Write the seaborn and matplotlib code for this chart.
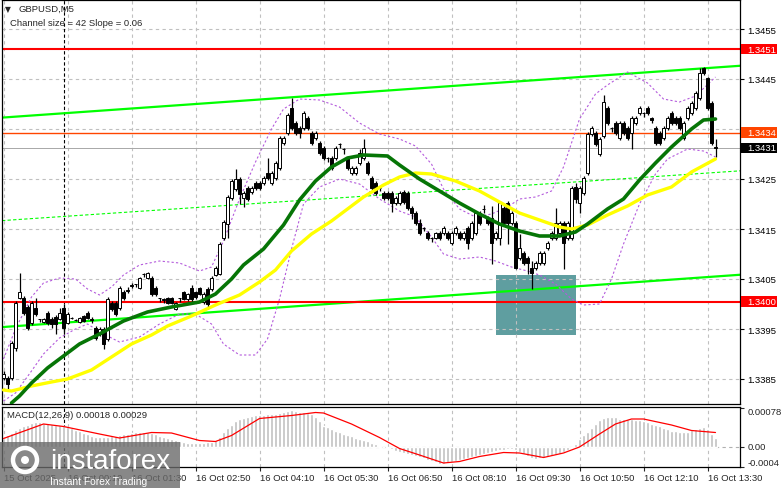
import numpy as np
import pandas as pd
import matplotlib
matplotlib.use("Agg")
import matplotlib.pyplot as plt
import matplotlib.transforms as mtransforms
from matplotlib.patches import Rectangle, Circle
import seaborn as sns

# GBPUSD M5, one entry per bar from 15 Oct 22:50 to 16 Oct 13:40
# prices in points (0.00001) above 1.3400
opens = [-148, -148, -148, -88, 12, 12, -6, -38, -8, -30,
         -36, -18, -30, -26, -30, -8, -38, -28, -32, -36,
         -24, -18, -30, -48, -60, -50, -70, 2, 2, -8,
         24, 28, 38, 40, 32, 60, 52, 52, 32, 12,
         10, 12, 12, -10, 12, 24, 10, 32, 24, 32,
         4, 30, 30, 58, 60, 132, 160, 212, 230, 250,
         212, 232, 224, 242, 242, 242, 262, 242, 252, 272,
         322, 342, 392, 362, 352, 352, 372, 342, 332, 322,
         312, 292, 292, 292, 320, 310, 292, 262, 262, 282,
         292, 282, 252, 242, 232, 222, 222, 222, 202, 202,
         224, 222, 192, 182, 162, 152, 142, 132, 132, 142,
         142, 142, 122, 142, 142, 132, 152, 132, 142, 182,
         190, 172, 172, 132, 132, 192, 202, 162, 162, 92,
         102, 92, 72, 72, 82, 82, 112, 132, 132, 142,
         162, 132, 132, 234, 202, 222, 262, 340, 342, 300,
         336, 392, 352, 362, 332, 362, 352, 342, 362, 382,
         382, 392, 372, 352, 342, 332, 352, 382, 372, 372,
         332, 372, 382, 392, 412, 472, 452, 402, 314]
closes = [-140, -160, -78, 2, 24, -18, -48, 2, -20, -30,
          -30, -38, -40, -40, -18, -48, -20, -28, -32, -28,
          -34, -28, -32, -68, -50, -80, 10, -10, -20, 32,
          12, 26, 36, 40, 52, 60, 62, 20, 20, 12,
          8, 2, 2, 2, 12, 10, 20, 10, 14, 20,
          20, 0, 52, 72, 120, 164, 214, 246, 250, 220,
          222, 210, 232, 232, 232, 252, 252, 262, 282, 332,
          332, 378, 352, 342, 342, 382, 352, 322, 342, 302,
          292, 292, 272, 312, 320, 310, 272, 272, 272, 302,
          312, 262, 232, 222, 232, 212, 212, 202, 212, 222,
          204, 192, 182, 162, 142, 152, 132, 132, 142, 132,
          152, 132, 142, 152, 132, 142, 122, 162, 182, 162,
          190, 162, 122, 142, 202, 162, 162, 182, 72, 112,
          82, 82, 62, 82, 102, 102, 122, 142, 162, 162,
          122, 162, 232, 210, 232, 252, 340, 352, 320, 330,
          404, 362, 352, 342, 362, 342, 332, 372, 372, 392,
          382, 382, 368, 322, 322, 352, 372, 362, 362, 352,
          362, 392, 402, 422, 462, 462, 392, 322, 312]
highs = [-134, -144, -74, 6, 62, 16, -2, 6, 12, -30,
         -28, -14, -26, -22, -8, 0, -16, -26, -30, -26,
         -22, -14, -26, -44, -46, -46, 14, 6, 6, 36,
         28, 34, 42, 40, 54, 62, 64, 56, 36, 12,
         12, 14, 14, 4, 12, 26, 22, 38, 26, 34,
         24, 34, 56, 76, 124, 168, 218, 250, 270, 254,
         226, 236, 236, 246, 246, 256, 292, 266, 286, 336,
         336, 382, 412, 366, 356, 386, 376, 346, 346, 326,
         316, 294, 296, 316, 322, 312, 296, 276, 276, 310,
         330, 286, 256, 246, 234, 226, 226, 226, 216, 226,
         228, 226, 196, 186, 170, 154, 146, 134, 144, 146,
         156, 146, 146, 156, 146, 146, 156, 166, 186, 186,
         198, 176, 196, 146, 206, 196, 206, 186, 166, 140,
         106, 96, 86, 86, 106, 106, 126, 146, 192, 166,
         166, 166, 236, 242, 236, 256, 344, 356, 346, 334,
         418, 396, 354, 366, 366, 366, 356, 376, 376, 396,
         384, 396, 374, 356, 346, 356, 376, 386, 376, 376,
         366, 396, 406, 426, 472, 474, 454, 406, 330]
lows = [-152, -170, -152, -94, 10, -22, -52, -42, -24, -36,
        -38, -42, -48, -60, -32, -60, -40, -30, -34, -38,
        -36, -30, -38, -72, -64, -90, -74, -14, -24, -12,
        8, 22, 32, 34, 30, 54, 50, 16, 16, 4,
        2, 0, 0, -12, 4, 8, 6, 0, 10, 18,
        0, -10, 26, 56, 58, 128, 132, 208, 226, 200,
        194, 206, 220, 228, 228, 238, 248, 238, 248, 268,
        318, 338, 348, 338, 332, 348, 348, 318, 328, 298,
        288, 284, 268, 288, 312, 300, 268, 258, 258, 278,
        288, 258, 228, 218, 226, 208, 208, 184, 198, 198,
        200, 188, 170, 158, 138, 146, 128, 124, 130, 128,
        138, 128, 118, 138, 128, 128, 110, 128, 138, 158,
        182, 158, 80, 128, 118, 158, 120, 158, 70, 88,
        78, 60, 30, 68, 78, 78, 108, 128, 128, 138,
        70, 128, 128, 202, 182, 218, 258, 336, 316, 296,
        332, 358, 344, 338, 328, 338, 328, 310, 358, 378,
        374, 378, 362, 318, 318, 328, 348, 358, 358, 348,
        328, 368, 378, 388, 408, 458, 388, 318, 294]

# moving averages (bar index, points)
ma_fast_bars = [2, 4, 7, 11, 15, 19, 24, 30, 36, 42, 49, 53, 57, 60, 65, 70, 74, 78, 82, 86,
                90, 96, 99, 104, 109, 114, 119, 124, 129, 134, 139, 143, 146, 151, 155, 159,
                163, 167, 172, 175, 178]
ma_fast = [-198, -184, -158, -128, -104, -80, -60, -34, -16, -6, 4, 20, 50, 78, 110, 158, 208,
           246, 274, 292, 298, 296, 278, 250, 226, 202, 180, 160, 146, 136, 136, 144, 160,
           190, 210, 248, 282, 314, 350, 368, 370]
ma_slow_bars = [0, 2, 7, 12, 16, 22, 27, 32, 37, 41, 47, 53, 59, 64, 68, 72, 77, 82, 86, 90,
                95, 99, 103, 107, 113, 119, 124, 129, 134, 139, 142, 146, 151, 156, 161, 167,
                172, 178]
ma_slow = [-172, -174, -164, -156, -150, -132, -106, -80, -62, -44, -24, -2, 18, 44, 68, 106,
           140, 166, 190, 214, 238, 254, 262, 260, 246, 226, 204, 182, 168, 154, 150, 158,
           178, 196, 218, 234, 264, 290]

# bollinger bands
bb_up_bars = [0, 3, 7, 10, 14, 18, 21, 24, 27, 30, 34, 39, 44, 49, 52, 55, 59, 63, 67, 70,
              74, 79, 84, 89, 94, 99, 103, 107, 110, 114, 118, 122, 126, 129, 133, 137, 140,
              144, 148, 151, 156, 161, 165, 169, 173, 178]
bb_up = [-110, -50, 14, 42, 52, 50, 30, 18, 34, 58, 78, 86, 82, 66, 74, 126, 210, 284, 350,
         390, 410, 408, 394, 362, 340, 330, 316, 280, 230, 190, 174, 180, 194, 210, 214, 226,
         274, 370, 420, 438, 464, 442, 410, 404, 416, 454]
bb_low_bars = [0, 3, 7, 10, 14, 18, 21, 25, 29, 34, 39, 44, 48, 52, 55, 59, 63, 66, 69, 72,
               75, 79, 84, 89, 94, 99, 103, 107, 110, 114, 119, 123, 127, 131, 134, 138, 142,
               145, 149, 152, 155, 159, 163, 166, 171, 175, 178]
bb_low = [-194, -178, -134, -100, -68, -50, -40, -60, -76, -66, -40, -20, -20, -40, -80, -102,
          -102, -70, 10, 110, 200, 234, 250, 240, 210, 186, 174, 134, 100, 90, 94, 86, 74, 66,
          58, 40, 10, -2, 0, 50, 120, 200, 260, 290, 310, 306, 294]

# channel (two anchor bars) and levels
chan_bars = [0, 178]
chan_upper = [373, 473]
chan_mid = [167, 263]
chan_lower = [-46, 55]
levels = {"1.3451": 1.3451, "1.3434": 1.34343, "1.3431": 1.34312, "1.3400": 1.34005}
zone_bars = [123, 143]
zone_pts = [-62, 58]
day_sep_bar = 15

# MACD histogram and signal, in 0.00001
macd_hist = [19, 24, 29, 34, 38, 42, 45, 48, 50, 50,
             49, 48, 46, 45, 44, 42, 40, 38, 35, 32,
             29, 26, 23, 21, 20, 20, 21, 22, 23, 25,
             26, 27, 28, 30, 31, 31, 30, 28, 26, 23,
             21, 19, 17, 15, 12, 10, 9, 8, 8, 9,
             9, 10, 10, 14, 20, 30, 38, 45, 52, 56,
             59, 61, 63, 64, 65, 65, 66, 66, 67, 69,
             71, 73, 74, 73, 71, 70, 68, 67, 60, 52,
             43, 40, 37, 33, 30, 27, 24, 22, 19, 17,
             15, 13, 9, 6, 3, 1, -1, -4, -7, -10,
             -11, -13, -15, -17, -20, -22, -25, -27, -30, -33,
             -33, -32, -30, -28, -26, -23, -21, -19, -17, -16,
             -14, -12, -10, -7, -6, -5, -4, -3, -6, -10,
             -14, -18, -22, -23, -22, -22, -20, -18, -16, -13,
             -10, -6, -2, 7, 17, 24, 31, 38, 47, 55,
             58, 60, 61, 60, 57, 57, 57, 57, 55, 54,
             53, 50, 47, 44, 42, 39, 36, 33, 32, 31,
             30, 31, 34, 37, 39, 40, 36, 26, 18]
sig_bars = [0, 10, 15, 24, 29, 37, 42, 49, 53, 57, 64, 72, 78, 80, 87, 94, 99, 104, 110, 114,
            119, 125, 129, 135, 140, 144, 149, 153, 157, 160, 167, 172, 178]
sig_vals = [17, 46, 41, 26, 18, 29, 28, 13, 11, 23, 57, 63, 69, 68, 46, 19, -3, -16, -32, -29,
            -19, -11, -12, -21, -12, 0, 26, 46, 56, 56, 44, 33, 29]

tick_bars = list(range(0, 177, 16))
tick_labels = ["15 Oct 2025", "16 Oct 00:10", "16 Oct 01:30", "16 Oct 02:50", "16 Oct 04:10",
               "16 Oct 05:30", "16 Oct 06:50", "16 Oct 08:10", "16 Oct 09:30", "16 Oct 10:50",
               "16 Oct 12:10", "16 Oct 13:30"]
price_ticks = [1.3385, 1.3395, 1.3405, 1.3415, 1.3425, 1.3435, 1.3445, 1.3455]

base, pt = 1.34, 1e-5
df = pd.DataFrame({"o": opens, "h": highs, "l": lows, "c": closes}) * pt + base
df["bar"] = np.arange(len(df))

sns.set_style("white")
plt.rcParams["font.family"] = ["Liberation Sans", "DejaVu Sans"]
FS = 6.8

W, H = 781, 489
fig = plt.figure(figsize=(W / 100, H / 100), dpi=100)
ax = fig.add_axes([2 / W, 1 - 405 / H, 738 / W, 404 / H])
ax2 = fig.add_axes([2 / W, 1 - 468 / H, 738 / W, 60 / H])

xlim = (-0.375, 184.125)
for a in (ax, ax2):
    a.set_xlim(*xlim)
    for s in a.spines.values():
        s.set_color("black")
        s.set_linewidth(0.9)
    for b in tick_bars:
        a.axvline(b, color="#c0c0c0", lw=0.8, ls=(0, (3, 3)), zorder=1)
    a.axvline(day_sep_bar, color="black", lw=0.8, ls=(0, (3, 2)), zorder=2)

ax.set_ylim(base - 200 * pt, base + 608 * pt)
for p in price_ticks:
    ax.axhline(p, color="#c0c0c0", lw=0.8, ls=(0, (3, 3)), zorder=1)

# sell/buy zone
ax.add_patch(Rectangle((zone_bars[0], base + zone_pts[0] * pt), zone_bars[1] - zone_bars[0],
                       (zone_pts[1] - zone_pts[0]) * pt, fc="#5f9ea0", ec="none", zorder=0.5))

# channel
cb = np.array(chan_bars)
ax.axline((cb[0], base + chan_upper[0] * pt), (cb[1], base + chan_upper[1] * pt),
          color="#00ff00", lw=1.6, zorder=2)
ax.axline((cb[0], base + chan_lower[0] * pt), (cb[1], base + chan_lower[1] * pt),
          color="#00ff00", lw=1.6, zorder=2)
ax.axline((cb[0], base + chan_mid[0] * pt), (cb[1], base + chan_mid[1] * pt),
          color="#00ff00", lw=0.8, ls=(0, (3, 2)), zorder=2)

# levels
ax.axhline(levels["1.3451"], color="#ff0000", lw=1.5, zorder=2)
ax.axhline(levels["1.3400"], color="#ff0000", lw=1.5, zorder=2)
ax.axhline(levels["1.3434"], color="#ff4500", lw=1.0, zorder=2)
ax.axhline(levels["1.3431"], color="#a8a8a8", lw=0.7, zorder=2)

# bollinger bands
sns.lineplot(x=bb_up_bars, y=np.array(bb_up) * pt + base, ax=ax, color="#b45bdc", lw=0.8,
             ls=(0, (2, 2)), sort=False, estimator=None, zorder=2.5)
sns.lineplot(x=bb_low_bars, y=np.array(bb_low) * pt + base, ax=ax, color="#b45bdc", lw=0.8,
             ls=(0, (2, 2)), sort=False, estimator=None, zorder=2.5)

# candles
up = df["c"] >= df["o"]
body_lo = np.minimum(df["o"], df["c"])
body_h = np.maximum((df["c"] - df["o"]).abs(), 0.3 * pt)
ax.vlines(df["bar"], df["l"], df["h"], color="black", lw=0.9, zorder=3)
ax.bar(df["bar"], body_h, bottom=body_lo, width=0.55,
       color=np.where(up, "white", "black"), edgecolor="black", linewidth=0.7, zorder=3.2)

# moving averages
sns.lineplot(x=ma_slow_bars, y=np.array(ma_slow) * pt + base, ax=ax, color="#ffff00", lw=2.4,
             sort=False, estimator=None, zorder=4)
sns.lineplot(x=ma_fast_bars, y=np.array(ma_fast) * pt + base, ax=ax, color="#067506", lw=2.6,
             sort=False, estimator=None, zorder=4.2)

# right price scale
ax.set_xticks([])
ax.set_yticks(price_ticks)
ax.set_yticklabels([f"{p:.4f}" for p in price_ticks], fontsize=FS)
ax.yaxis.tick_right()
ax.tick_params(axis="y", right=True, length=3, width=0.8, pad=2, colors="black")

trans = mtransforms.blended_transform_factory(ax.transAxes, ax.transData)
for txt, fc in [("1.3451", "#ff0000"), ("1.3434", "#ff4500"), ("1.3431", "#000000"),
                ("1.3400", "#ff0000")]:
    p = levels[txt]
    ax.add_patch(Rectangle((1.0015, p - 10.5e-5), 0.048, 21e-5, transform=trans, fc=fc,
                           ec="none", clip_on=False, zorder=10))
    ax.text(1.0105, p, txt, transform=trans, color="white", fontsize=FS, va="center",
            ha="left", zorder=11, clip_on=False)

ax.text(0.004, 0.980, "\u25bc", transform=ax.transAxes, fontsize=5.5, va="center",
        family=["DejaVu Sans"])
ax.text(0.022, 0.980, "GBPUSD,M5", transform=ax.transAxes, fontsize=FS, va="center")
ax.text(0.011, 0.9455, "Channel size = 42 Slope = 0.06", transform=ax.transAxes, fontsize=FS,
        va="center")

# MACD panel
ax2.set_ylim(-0.0004, 0.0008)
ax2.axhline(0, color="#b0b0b0", lw=0.8, ls=(0, (3, 3)), zorder=1)
ax2.bar(df["bar"], np.array(macd_hist) * pt, width=0.6, color="#c0c0c0", zorder=2)
sns.lineplot(x=sig_bars, y=np.array(sig_vals) * pt, ax=ax2, color="#ff0000", lw=0.9,
             sort=False, estimator=None, zorder=3)
ax2.yaxis.tick_right()
ax2.set_yticks([0.00078, 0.0, -0.0004])
ax2.set_yticklabels([])
ax2.tick_params(axis="y", right=True, length=3, width=0.8)
t2 = mtransforms.blended_transform_factory(ax2.transAxes, ax2.transData)
ax2.text(1.0105, 0.0008, "0.00078", transform=t2, fontsize=FS, va="top", clip_on=False)
ax2.text(1.0105, 0.0, "0.00", transform=t2, fontsize=FS, va="center", clip_on=False)
ax2.text(1.0105, -0.0004, "-0.0004", transform=t2, fontsize=FS, va="bottom", clip_on=False)
ax2.text(0.0068, 0.95, "MACD(12,26,9) 0.00018 0.00029", transform=ax2.transAxes, fontsize=FS,
         va="top")

ax2.set_xticks(tick_bars)
ax2.set_xticklabels(tick_labels, fontsize=FS, ha="left")
ax2.tick_params(axis="x", bottom=True, length=3, width=0.8, pad=1.5)

# watermark
fig.patches.append(Rectangle((0, 0), 180 / W, 46 / H, transform=fig.transFigure,
                             fc="#6a6a6a", ec="none", alpha=0.8, zorder=5))
fig.patches.append(Circle((0.25, 0.28), 0.12, transform=fig.dpi_scale_trans, fill=False,
                          ec="white", lw=3.2, zorder=6))
fig.patches.append(Circle((0.25, 0.28), 0.04, transform=fig.dpi_scale_trans, fc="white",
                          ec="none", zorder=6))
fig.text(50 / W, (H - 469) / H, "instaforex", color="white", fontsize=20, va="baseline",
         zorder=7)
fig.text(50 / W, (H - 485) / H, "Instant Forex Trading", color="white", fontsize=7.4,
         va="baseline", zorder=7)

fig.savefig("out.png", dpi=100)
